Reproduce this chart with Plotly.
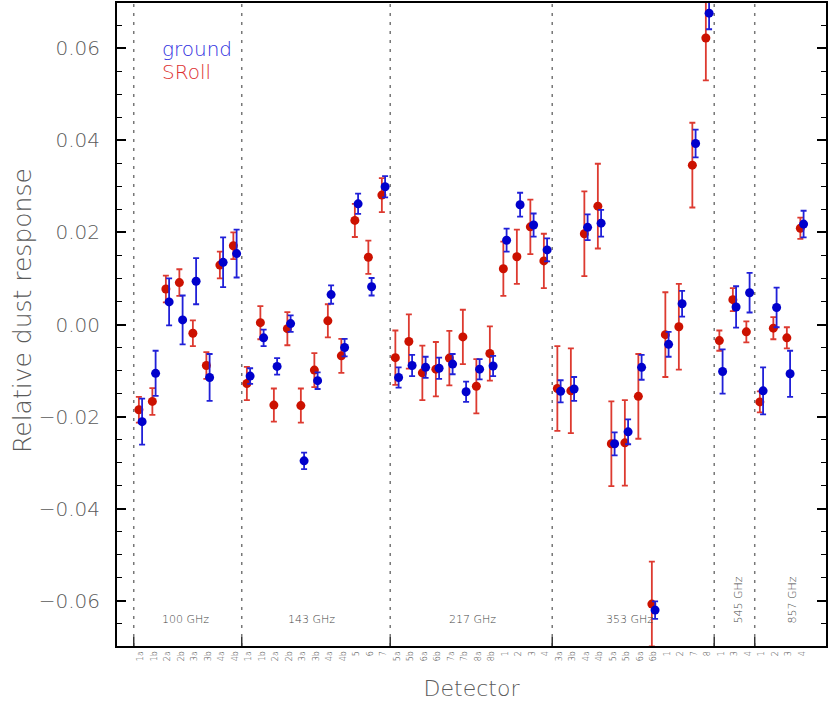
import plotly.graph_objects as go

# ---------------- data ----------------
groups = ["100 GHz", "143 GHz", "217 GHz", "353 GHz", "545 GHz", "857 GHz"]
det_100 = ["1a", "1b", "2a", "2b", "3a", "3b", "4a", "4b"]
det_143 = ["1a", "1b", "2a", "2b", "3a", "3b", "4a", "4b", "5", "6", "7"]
det_217 = ["5a", "5b", "6a", "6b", "7a", "7b", "8a", "8b", "1", "2", "3", "4"]
det_353 = ["3a", "3b", "4a", "4b", "5a", "5b", "6a", "6b", "1", "2", "7", "8"]
det_545 = ["1", "3", "4"]
det_857 = ["1", "2", "3", "4"]

sroll_100 = [-0.0185, -0.0167, 0.0077, 0.0091, -0.0019, -0.0089, 0.0129, 0.0171]
sroll_143 = [-0.0128, 0.0004, -0.0175, -0.0009, -0.0176, -0.0099, 0.0008, -0.0068, 0.0226, 0.0146, 0.0281]
sroll_217 = [-0.0072, -0.0037, -0.0105, -0.0097, -0.0073, -0.0027, -0.0134, -0.0063, 0.0121, 0.0147, 0.0212, 0.0138]
sroll_353 = [-0.0139, -0.0144, 0.0197, 0.0257, -0.0259, -0.0257, -0.0156, -0.0607, -0.0022, -0.0005, 0.0346, 0.0622]
sroll_545 = [-0.0035, 0.0054, -0.0016]
sroll_857 = [-0.0168, -0.0008, -0.0029, 0.0209]

sroll_err_100 = [0.0028, 0.0029, 0.0029, 0.0029, 0.0028, 0.0029, 0.0029, 0.0029]
sroll_err_143 = [0.0036, 0.0036, 0.0036, 0.0036, 0.0037, 0.0037, 0.0036, 0.0037, 0.0036, 0.0036, 0.0037]
sroll_err_217 = [0.0059, 0.0059, 0.0059, 0.0059, 0.0059, 0.0059, 0.0059, 0.0059, 0.0059, 0.0059, 0.0059, 0.0059]
sroll_err_353 = [0.0092, 0.0092, 0.0092, 0.0092, 0.0092, 0.0093, 0.0092, 0.0092, 0.0092, 0.0093, 0.0092, 0.0092]
sroll_err_545 = [0.0022, 0.0025, 0.0023]
sroll_err_857 = [0.0023, 0.0024, 0.0023, 0.0023]

ground_100 = [-0.0211, -0.0106, 0.0049, 0.0010, 0.0094, -0.0115, 0.0135, 0.0154]
ground_143 = [-0.0112, -0.0029, -0.0091, 0.0002, -0.0296, -0.0122, 0.0065, -0.0050, 0.0262, 0.0082, 0.0299]
ground_217 = [-0.0115, -0.0089, -0.0093, -0.0095, -0.0086, -0.0146, -0.0097, -0.0090, 0.0183, 0.0260, 0.0216, 0.0162]
ground_353 = [-0.0145, -0.0140, 0.0211, 0.0220, -0.0259, -0.0233, -0.0093, -0.0620, -0.0043, 0.0045, 0.0393, 0.0676]
ground_545 = [-0.0102, 0.0038, 0.0069]
ground_857 = [-0.0144, 0.0037, -0.0107, 0.0218]

ground_err_100 = [0.0050, 0.0049, 0.0051, 0.0053, 0.0050, 0.0051, 0.0054, 0.0052]
ground_err_143 = [0.0017, 0.0018, 0.0018, 0.0018, 0.0018, 0.0018, 0.0020, 0.0019, 0.0022, 0.0019, 0.0023]
ground_err_217 = [0.0022, 0.0023, 0.0023, 0.0023, 0.0022, 0.0022, 0.0022, 0.0022, 0.0025, 0.0026, 0.0025, 0.0025]
ground_err_353 = [0.0024, 0.0026, 0.0028, 0.0029, 0.0025, 0.0027, 0.0027, 0.0019, 0.0027, 0.0028, 0.0030, 0.0035]
ground_err_545 = [0.0048, 0.0045, 0.0043]
ground_err_857 = [0.0051, 0.0043, 0.0050, 0.0029]

# ---------------- assemble ----------------
dets = [det_100, det_143, det_217, det_353, det_545, det_857]
labels = sum(dets, [])
sroll = sroll_100 + sroll_143 + sroll_217 + sroll_353 + sroll_545 + sroll_857
sroll_err = sroll_err_100 + sroll_err_143 + sroll_err_217 + sroll_err_353 + sroll_err_545 + sroll_err_857
ground = ground_100 + ground_143 + ground_217 + ground_353 + ground_545 + ground_857
ground_err = ground_err_100 + ground_err_143 + ground_err_217 + ground_err_353 + ground_err_545 + ground_err_857

idx = list(range(len(labels)))
off = 0.12

FONT = "DejaVu Sans"
WT = 300
GREY = "#5a5a5a"
DGREY = "#444444"
RED = "#cc1100"
BLUE = "#0000cc"

W, H = 830, 710
ML, MR, MT, MB = 117, 4, 3, 64
pw, ph = W - ML - MR, H - MT - MB


def px_to_paper(xp, yp):
    return (xp - ML) / pw, ((H - MB) - yp) / ph


def fnt(size, color=GREY):
    return dict(family=FONT, size=size, color=color, weight=WT)


fig = go.Figure()
fig.add_trace(go.Scatter(
    x=[i - off for i in idx], y=sroll, mode="markers", name="SRoll",
    marker=dict(color=RED, size=9, line=dict(width=0)),
    error_y=dict(type="data", array=sroll_err, visible=True, color="#dd3a30", thickness=1.8, width=3),
))
fig.add_trace(go.Scatter(
    x=[i + off for i in idx], y=ground, mode="markers", name="ground",
    marker=dict(color=BLUE, size=9, line=dict(width=0)),
    error_y=dict(type="data", array=ground_err, visible=True, color="#2020d8", thickness=1.8, width=3),
))

# group boundaries
bounds = [-0.5]
for d in dets:
    bounds.append(bounds[-1] + len(d))
shapes = []
for b in bounds[:-1]:
    shapes.append(dict(type="line", xref="x", yref="paper", x0=b, x1=b, y0=0, y1=1,
                       line=dict(color="#777777", width=1.5, dash="3px,6px"), layer="below"))
    shapes.append(dict(type="line", xref="x", yref="paper", x0=b, x1=b, y0=0, y1=0.014,
                       line=dict(color="#333333", width=1.5)))

annotations = []
# group labels
lab_x = [3.3, 12.7, 24.6, 36.2, 44.3, 48.3]
for k, (g, xg) in enumerate(zip(groups, lab_x)):
    if k < 4:
        annotations.append(dict(x=xg, y=-0.0641, xref="x", yref="y", text=g, showarrow=False,
                                font=fnt(11, DGREY)))
    else:
        annotations.append(dict(x=xg, y=-0.0598, xref="x", yref="y", text=g, showarrow=False,
                                textangle=-90, font=fnt(11, DGREY)))
# legend as text
gx, gy = px_to_paper(160, 49)
sx, sy = px_to_paper(160, 72)
annotations.append(dict(x=gx, y=gy, xref="paper", yref="paper", text="ground", showarrow=False,
                        xanchor="left", yanchor="middle", font=fnt(20, "#3030e0")))
annotations.append(dict(x=sx, y=sy, xref="paper", yref="paper", text="SRoll", showarrow=False,
                        xanchor="left", yanchor="middle", font=fnt(20, "#dd3030")))
# y-axis title
tx, ty = px_to_paper(22, 310)
annotations.append(dict(x=tx, y=ty, xref="paper", yref="paper", text="Relative dust response",
                        showarrow=False, textangle=-90, xanchor="center", yanchor="middle",
                        font=fnt(25)))

fig.update_layout(
    width=W, height=H,
    margin=dict(l=ML, r=MR, t=MT, b=MB, autoexpand=False),
    paper_bgcolor="white", plot_bgcolor="white",
    showlegend=False,
    shapes=shapes, annotations=annotations,
    font=dict(family=FONT, color=GREY, weight=WT),
    xaxis=dict(
        range=[-1.74, 50.78], tickmode="array", tickvals=idx, ticktext=labels,
        tickangle=-90, tickfont=fnt(8, DGREY), ticks="", ticklen=0,
        showgrid=False, zeroline=False, showline=True, linecolor="black", linewidth=2, mirror=True,
        automargin=False,
        title=dict(text="Detector", font=fnt(22), standoff=20),
    ),
    yaxis=dict(
        range=[-0.0698, 0.0698], tickmode="array", tickvals=[-0.06, -0.04, -0.02, 0.0, 0.02, 0.04, 0.06],
        tickformat=".2f", tickfont=fnt(20),
        ticks="inside", ticklen=9, tickwidth=1.5, tickcolor="black", ticklabelstandoff=11,
        minor=dict(dtick=0.005, ticks="inside", ticklen=5, tickwidth=1.2, tickcolor="black", tick0=0),
        showgrid=False, zeroline=False, showline=True, linecolor="black", linewidth=2, mirror="ticks",
        automargin=False,
    ),
)

fig.write_html("out.html", config={"displayModeBar": False},
               post_script="document.body.style.margin='0';")
